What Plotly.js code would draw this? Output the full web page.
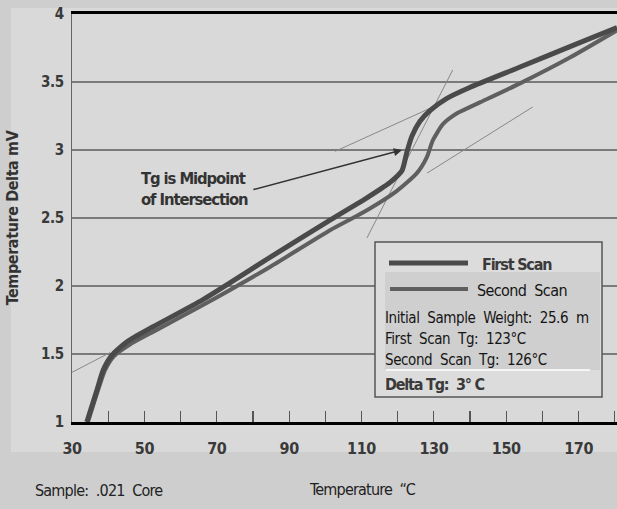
<!DOCTYPE html>
<html>
<head>
<meta charset="utf-8">
<script src="https://cdn.plot.ly/plotly-3.0.1.min.js"></script>
<style>
html,body{margin:0;padding:0;background:#cecece;}
#chart{width:617px;height:509px;}
#chart .xtick text, #chart .ytick text { letter-spacing: -0.4px; }
#chart .ytitle { letter-spacing: -0.4px; }
</style>
</head>
<body>
<div id="chart"></div>
<script>
// ---- data ----
const firstScanT = [34.1, 36.9, 38.6, 41.0, 45.2, 52.4, 66.2, 84.7, 101.3, 110.4, 115.1, 117.8, 121.2, 122.5, 123.9, 126.1, 128.9, 133.6, 139.9, 153.8, 167.6, 180.6];
const firstScanV = [1.00, 1.235, 1.38, 1.49, 1.59, 1.70, 1.90, 2.21, 2.485, 2.63, 2.71, 2.76, 2.85, 2.98, 3.10, 3.21, 3.29, 3.38, 3.46, 3.61, 3.76, 3.90];
const secondScanT = [34.4, 37.2, 39.1, 41.6, 46.0, 52.9, 66.2, 84.7, 101.3, 110.4, 119.8, 125.3, 128.1, 129.7, 132.5, 136.4, 139.9, 142.7, 153.8, 167.6, 180.6];
const secondScanV = [1.00, 1.235, 1.38, 1.485, 1.57, 1.67, 1.86, 2.14, 2.41, 2.54, 2.70, 2.83, 2.95, 3.07, 3.19, 3.27, 3.315, 3.35, 3.49, 3.68, 3.88];
// thin tangent construction lines
const tangentInflT = [111.5, 135.2];
const tangentInflV = [2.353, 3.588];
const tangentUpperT = [102.7, 129.7];
const tangentUpperV = [2.99, 3.316];
const tangentSecondT = [128.1, 157.3];
const tangentSecondV = [2.83, 3.316];
const tangentLowT = [26.7, 40.5];
const tangentLowV = [1.32, 1.51];
const xTickLabels = [30, 50, 70, 90, 110, 130, 150, 170];
const yTickLabels = [1, 1.5, 2, 2.5, 3, 3.5, 4];
const seriesNames = ['First Scan', 'Second Scan'];
const noteLines = ['Tg is Midpoint', 'of Intersection'];
const infoLines = ['Initial\u00a0 Sample\u00a0 Weight:\u00a0 25.6\u00a0 m', 'First\u00a0 Scan\u00a0 Tg:\u00a0 123°C', 'Second\u00a0 Scan\u00a0 Tg:\u00a0 126°C'];
const deltaText = 'Delta Tg:\u00a0 3° C';

// ---- styling helpers ----
const W = 617, H = 509, ML = 72, MR = 0, MT = 14, MB = 87;
const PW = W - ML - MR, PH = H - MT - MB;
const px = x => (x - ML) / PW;
const py = y => (H - MB - y) / PH;
const narrow = '"Liberation Sans Narrow", "Arial Narrow", "DejaVu Sans Condensed", sans-serif';
const sp = (t, ls) => '<span style="letter-spacing:' + ls + 'px">' + t + '</span>';
const c1 = '#4a4a4a', c2 = '#5f5f5f', tc = '#888888';

const traces = [
  {x: tangentInflT, y: tangentInflV, mode: 'lines', line: {color: tc, width: 1}, showlegend: false, hoverinfo: 'skip'},
  {x: tangentUpperT, y: tangentUpperV, mode: 'lines', line: {color: tc, width: 1}, showlegend: false, hoverinfo: 'skip'},
  {x: tangentSecondT, y: tangentSecondV, mode: 'lines', line: {color: tc, width: 1}, showlegend: false, hoverinfo: 'skip'},
  {x: tangentLowT, y: tangentLowV, mode: 'lines', line: {color: tc, width: 1}, showlegend: false, hoverinfo: 'skip'},
  {x: secondScanT, y: secondScanV, name: seriesNames[1], mode: 'lines', line: {color: c2, width: 4, shape: 'spline', smoothing: 0.6}, showlegend: false},
  {x: firstScanT, y: firstScanV, name: seriesNames[0], mode: 'lines', line: {color: c1, width: 5, shape: 'spline', smoothing: 0.6}, showlegend: false}
];

const shapes = [
  // scanned page background
  {type: 'rect', xref: 'paper', yref: 'paper', x0: px(11), x1: px(617), y0: py(452), y1: py(8), fillcolor: '#d9d9d9', line: {width: 0}, layer: 'below'},
  // legend box
  {type: 'rect', xref: 'paper', yref: 'paper', x0: px(375), x1: px(602), y0: py(397), y1: py(242), fillcolor: '#dcdcdc', line: {color: '#555', width: 1.5}},
  {type: 'rect', xref: 'paper', yref: 'paper', x0: px(385), x1: px(600), y0: py(370), y1: py(272), fillcolor: '#cfcfcf', line: {width: 0}},
  {type: 'line', xref: 'paper', yref: 'paper', x0: px(386), x1: px(590), y0: py(370), y1: py(370), line: {color: '#ffffff', width: 1.5}},
  {type: 'line', xref: 'paper', yref: 'paper', x0: px(389), x1: px(468), y0: py(263), y1: py(263), line: {color: c1, width: 5}},
  {type: 'line', xref: 'paper', yref: 'paper', x0: px(390), x1: px(468), y0: py(289), y1: py(289), line: {color: c2, width: 4}}
];

const leftText = (x, y, text, size, color) => ({xref: 'paper', yref: 'paper', x: px(x), y: py(y), xanchor: 'left', yanchor: 'middle', align: 'left', showarrow: false, borderpad: 0,
  text: text, font: {family: narrow, size: size, color: color}});

const ann = [
  leftText(140, 178, '<b>' + sp(noteLines[0], -1.1) + '</b>', 16.5, '#333'),
  leftText(140, 199, '<b>' + sp(noteLines[1], -1.1) + '</b>', 16.5, '#333'),
  {x: 121.2, y: 3.0, ax: 79.7, ay: 2.706, axref: 'x', ayref: 'y', text: '', showarrow: true, arrowhead: 2, arrowsize: 1.1, arrowwidth: 1.5, arrowcolor: '#333'},
  leftText(481, 264, '<b>' + sp(seriesNames[0], -1.2) + '</b>', 16, '#3a3a3a'),
  leftText(476, 290, sp(seriesNames[1].replace(' ', '\u00a0 '), -0.6), 16, '#151515'),
  leftText(384, 318, sp(infoLines[0], -0.4), 15, '#151515'),
  leftText(384, 339, sp(infoLines[1], -0.4), 15, '#151515'),
  leftText(384, 360, sp(infoLines[2], -0.4), 15, '#151515'),
  leftText(384, 384, '<b>' + sp(deltaText, -1.2) + '</b>', 16, '#3a3a3a'),
  leftText(34, 490, sp('Sample:\u00a0 .021\u00a0 Core', -0.8), 16, '#222'),
  leftText(308, 489, sp('Temperature\u00a0 “C', -0.8), 16, '#222')
];

const layout = {
  width: W, height: H,
  margin: {l: ML, r: MR, t: MT, b: MB, pad: 0},
  paper_bgcolor: '#cecece',
  plot_bgcolor: 'rgba(0,0,0,0)',
  showlegend: false,
  xaxis: {
    range: [30, 180.6], showgrid: false, zeroline: false,
    showline: true, linecolor: '#000', linewidth: 3, mirror: true,
    tickmode: 'array', tickvals: xTickLabels, ticktext: xTickLabels.map(String),
    ticks: 'inside', ticklen: 11, tickwidth: 1.2, tickcolor: '#555',
    minor: {dtick: 10, tick0: 30, ticks: 'inside', ticklen: 11, tickwidth: 1.2, tickcolor: '#555'},
    ticklabelstandoff: 10,
    tickfont: {family: narrow, size: 16, color: '#3a3a3a', weight: 'bold'}
  },
  yaxis: {
    range: [1, 4], showgrid: true, gridcolor: '#7a7a7a', gridwidth: 1.2, zeroline: false,
    showline: true, linecolor: '#666', linewidth: 1.2,
    tickmode: 'array', tickvals: yTickLabels, ticktext: yTickLabels.map(String),
    ticks: '', ticklabelstandoff: 4,
    tickfont: {family: narrow, size: 15, color: '#3a3a3a', weight: 'bold'},
    title: {text: '<b>Temperature Delta mV</b>', standoff: 17, font: {family: narrow, size: 16, color: '#333'}}
  },
  shapes: shapes,
  annotations: ann
};

Plotly.newPlot('chart', traces, layout, {displayModeBar: false, staticPlot: true});
</script>
</body>
</html>
